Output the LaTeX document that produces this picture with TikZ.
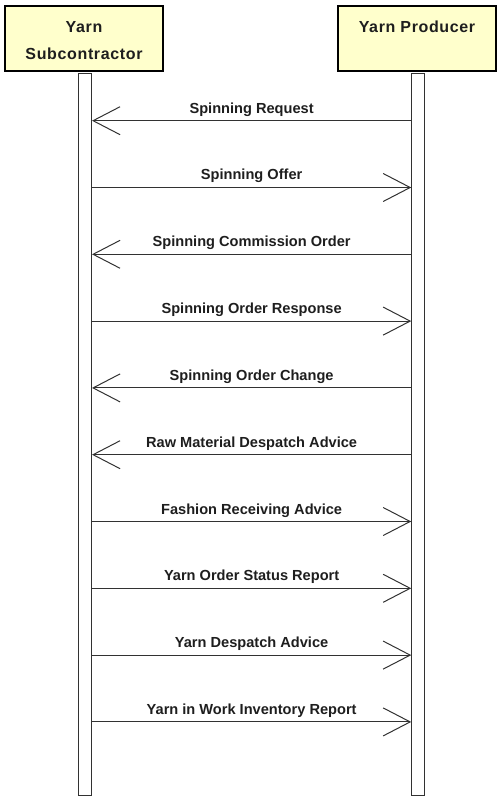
\documentclass[tikz,border=0pt]{standalone}
\usepackage{fontspec}
\setmainfont{Liberation Sans}
\newfontfamily\titlefont[LetterSpace=4]{Liberation Sans}
\usetikzlibrary{arrows.meta}
\definecolor{boxfill}{RGB}{255,255,204}
\definecolor{linegray}{RGB}{50,50,50}
\definecolor{textgray}{RGB}{30,30,30}
\begin{document}
\begin{tikzpicture}[x=1pt,y=-1pt,
  actor/.style={draw=black,line width=2pt,fill=boxfill,minimum width=158pt,minimum height=65pt,inner sep=0pt},
  title/.style={font=\titlefont\bfseries\fontsize{16}{26.6}\selectfont,text=textgray,anchor=base,inner sep=0pt},
  bar/.style={draw=linegray,line width=1pt,fill=white,minimum width=13pt,minimum height=722pt,inner sep=0pt,anchor=north},
  msg/.style={draw=linegray,line width=1pt,-{Straight Barb[length=27pt,width=28pt,line width=1pt]}},
  lbl/.style={font=\bfseries\fontsize{14.6}{16}\selectfont,text=textgray,anchor=base,inner sep=0pt}]
\useasboundingbox (0,0) rectangle (501,799);
% lifelines
\node[bar] (lbar) at (85,73) {};
\node[bar] (rbar) at (418.25,73) {};
% actors
\node[actor] (sub) at (84,39) {};
\node[actor] (prod) at (417,39) {};
\node[title] (subT1) at (84,32.7) {Yarn};
\node[title] (subT2) at (84,59.3) {Subcontractor};
\node[title] (prodT) at (417,33) {Yarn Producer};
% message endpoints
\foreach \i/\y in {1/120.7,2/187.5,3/254.3,4/321.1,5/387.9,6/454.7,7/521.5,8/588.3,9/655.1,10/721.9}{
  \coordinate (L\i) at (lbar.east |- 0,\y);
  \coordinate (R\i) at (rbar.west |- 0,\y);
}
% messages
\draw[msg] (R1) -- (L1) node[lbl,midway,yshift=7.5pt] (m1) {Spinning Request};
\draw[msg] (L2) -- (R2) node[lbl,midway,yshift=7.5pt] (m2) {Spinning Offer};
\draw[msg] (R3) -- (L3) node[lbl,midway,yshift=7.5pt] (m3) {Spinning Commission Order};
\draw[msg] (L4) -- (R4) node[lbl,midway,yshift=7.5pt] (m4) {Spinning Order Response};
\draw[msg] (R5) -- (L5) node[lbl,midway,yshift=7.5pt] (m5) {Spinning Order Change};
\draw[msg] (R6) -- (L6) node[lbl,midway,yshift=7.5pt] (m6) {Raw Material Despatch Advice};
\draw[msg] (L7) -- (R7) node[lbl,midway,yshift=7.5pt] (m7) {Fashion Receiving Advice};
\draw[msg] (L8) -- (R8) node[lbl,midway,yshift=7.5pt] (m8) {Yarn Order Status Report};
\draw[msg] (L9) -- (R9) node[lbl,midway,yshift=7.5pt] (m9) {Yarn Despatch Advice};
\draw[msg] (L10) -- (R10) node[lbl,midway,yshift=7.5pt] (m10) {Yarn in Work Inventory Report};
\end{tikzpicture}
\end{document}
